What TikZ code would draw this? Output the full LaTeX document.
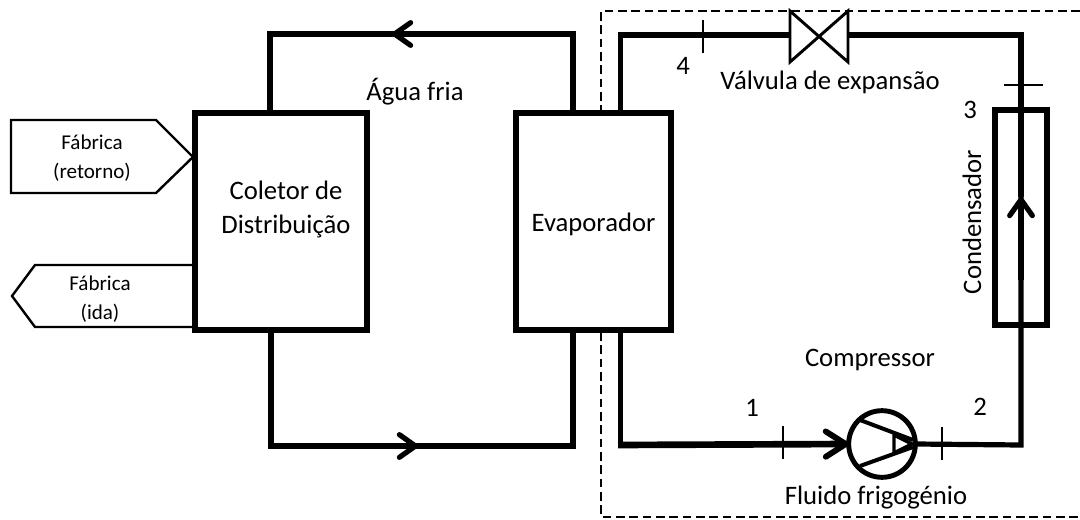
\documentclass[tikz,border=0pt]{standalone}
\usepackage{fontspec}
\setmainfont{Carlito}
\usetikzlibrary{arrows.meta}
\tikzset{
    box/.style={draw,fill=white,line width=4.1pt,minimum height=162.4pt,inner sep=0pt,outer sep=0pt},
    pipe/.style={line width=3.9pt,line join=miter},
    flow/.style={pipe,-{Straight Barb[round,length=12pt,width=17pt,line width=3.9pt]}},
    tick/.style={line width=0.8pt},
    tag/.style={draw,line width=1.8pt,line join=miter},
    big/.style={font=\fontsize{20}{25.5}\selectfont,inner sep=0pt,align=center},
    small/.style={font=\fontsize{15.8}{21.5}\selectfont,inner sep=0pt,align=center}
}
\begin{document}
\begin{tikzpicture}[x=0.75pt,y=-0.75pt]
    \useasboundingbox (0,0) rectangle (1080,520);

    % boundary of the chiller
    \coordinate (dashtr) at (1080,11);
    \coordinate (dashtl) at (601,11);
    \coordinate (dashbl) at (601,517);
    \coordinate (dashbr) at (1080,517);
    \draw[line width=1.7pt,dash pattern=on 6.5pt off 3.5pt] (dashtr) -- (dashtl) -- (dashbl) -- (dashbr);

    % boxes
    \node[box,minimum width=129pt] (coletor) at (281,221.5) {};
    \node[box,minimum width=116pt] (evaporador) at (593.5,221.5) {};
    \node[draw,line width=4.1pt,minimum width=39pt,minimum height=161pt,inner sep=0pt,outer sep=0pt] (condensador) at (1021,217.5) {};
    \node[draw,circle,line width=3.7pt,minimum size=50pt,inner sep=0pt,outer sep=0pt] (compressor) at (882,444) {};

    % water loop
    \coordinate (wtl) at (270,34);
    \coordinate (wtr) at (573,34);
    \coordinate (wta) at (392,34);
    \coordinate (wbl) at (271,446);
    \coordinate (wbr) at (573,446);
    \coordinate (wba) at (418,446);
    \draw[pipe] (wtl |- coletor.north) -- (wtl) -- (wtr) -- (wtr |- evaporador.north);
    \draw[flow] (wtr) -- (wta);
    \draw[pipe] (wbl |- coletor.south) -- (wbl) -- (wbr) -- (wbr |- evaporador.south);
    \draw[flow] (wbl) -- (wba);

    % valve
    \coordinate (vtl) at (790,11);
    \coordinate (vbl) at (790,62);
    \coordinate (vtr) at (848,11);
    \coordinate (vbr) at (848,62);
    \draw[line width=2.2pt,line join=miter] (vtl) -- (vbl) -- (vtr) -- (vbr) -- cycle;

    % refrigerant loop
    \coordinate (rtl) at (620.5,35);
    \coordinate (rtr) at (1021,35);
    \coordinate (rbl) at (620.5,445);
    \coordinate (rbk) at (618,445);
    \coordinate (rbr) at (1021,445);
    \coordinate (rvl) at (790,35);
    \coordinate (rvr) at (848,35);
    \coordinate (rca) at (1021,197);
    \coordinate (rcb) at (1021,280);
    \draw[pipe] (rtl |- evaporador.north) -- (rtl) -- (rvl);
    \draw[pipe] (rvr) -- (rtr) -- (rca);
    \draw[pipe] (rca) -- (rbr) -- (compressor.east);
    \draw[pipe,-{Straight Barb[round,length=12pt,width=17pt,line width=3.9pt]}] (rcb) -- (rca);
    \draw[pipe] (rbl |- evaporador.south) -- (rbl);
    \draw[line width=5pt,-{Straight Barb[round,length=15pt,width=19pt,line width=4.4pt]}] (rbk) -- (compressor.west);

    % compressor inside
    \coordinate (cta) at (860,420);
    \coordinate (ctb) at (913,440);
    \coordinate (cba) at (860,466);
    \coordinate (cbb) at (913,447);
    \draw[line width=3pt] (cta) -- (ctb);
    \draw[line width=3pt] (cba) -- (cbb);
    \coordinate (cra) at (894,435);
    \coordinate (crb) at (894,453);
    \coordinate (crc) at (912,444);
    \draw[line width=2.6pt,line join=miter] (cra) -- (crb) -- (crc) -- cycle;

    % state points
    \coordinate (p1a) at (783,426);
    \coordinate (p1b) at (783,459);
    \coordinate (p2a) at (942,427);
    \coordinate (p2b) at (942,460);
    \coordinate (p3a) at (1004,85);
    \coordinate (p3b) at (1043,85);
    \coordinate (p4a) at (703,20);
    \coordinate (p4b) at (703,53);
    \draw[tick] (p1a) -- (p1b);
    \draw[tick] (p2a) -- (p2b);
    \draw[tick] (p3a) -- (p3b);
    \draw[tick] (p4a) -- (p4b);
    \node[big] (n1) at (752,408) {1};
    \node[big] (n2) at (980,407) {2};
    \node[big] (n3) at (970,110) {3};
    \node[big] (n4) at (683,66) {4};

    % factory tags
    \coordinate (ra) at (11,120);
    \coordinate (rb) at (156,120);
    \coordinate (rc) at (193,157);
    \coordinate (rd) at (156,193);
    \coordinate (re) at (11,193);
    \draw[tag] (ra) -- (rb) -- (rc) -- (rd) -- (re) -- cycle;
    \coordinate (ia) at (193,265);
    \coordinate (ib) at (35,265);
    \coordinate (ic) at (12,296);
    \coordinate (id) at (35,327);
    \coordinate (ie) at (193,327);
    \draw[tag] (ia) -- (ib) -- (ic) -- (id) -- (ie);
    \node[small] (retorno) at (92,158) {Fábrica\\(retorno)};
    \node[small] (ida) at (100,299) {Fábrica\\(ida)};

    % labels
    \node[big] (distrib) at (286,209) {Coletor de\\Distribuição};
    \node[big] (evap) at (593.5,224) {Evaporador};
    \node[big] (agua) at (415,92) {Água fria};
    \node[big] (valvula) at (830,82) {Válvula de expansão};
    \node[big] (comp) at (870,360) {Compressor};
    \node[big] (fluido) at (876,498) {Fluido frigogénio};
    \node[big,rotate=90] (cond) at (972,222) {Condensador};
\end{tikzpicture}
\end{document}
